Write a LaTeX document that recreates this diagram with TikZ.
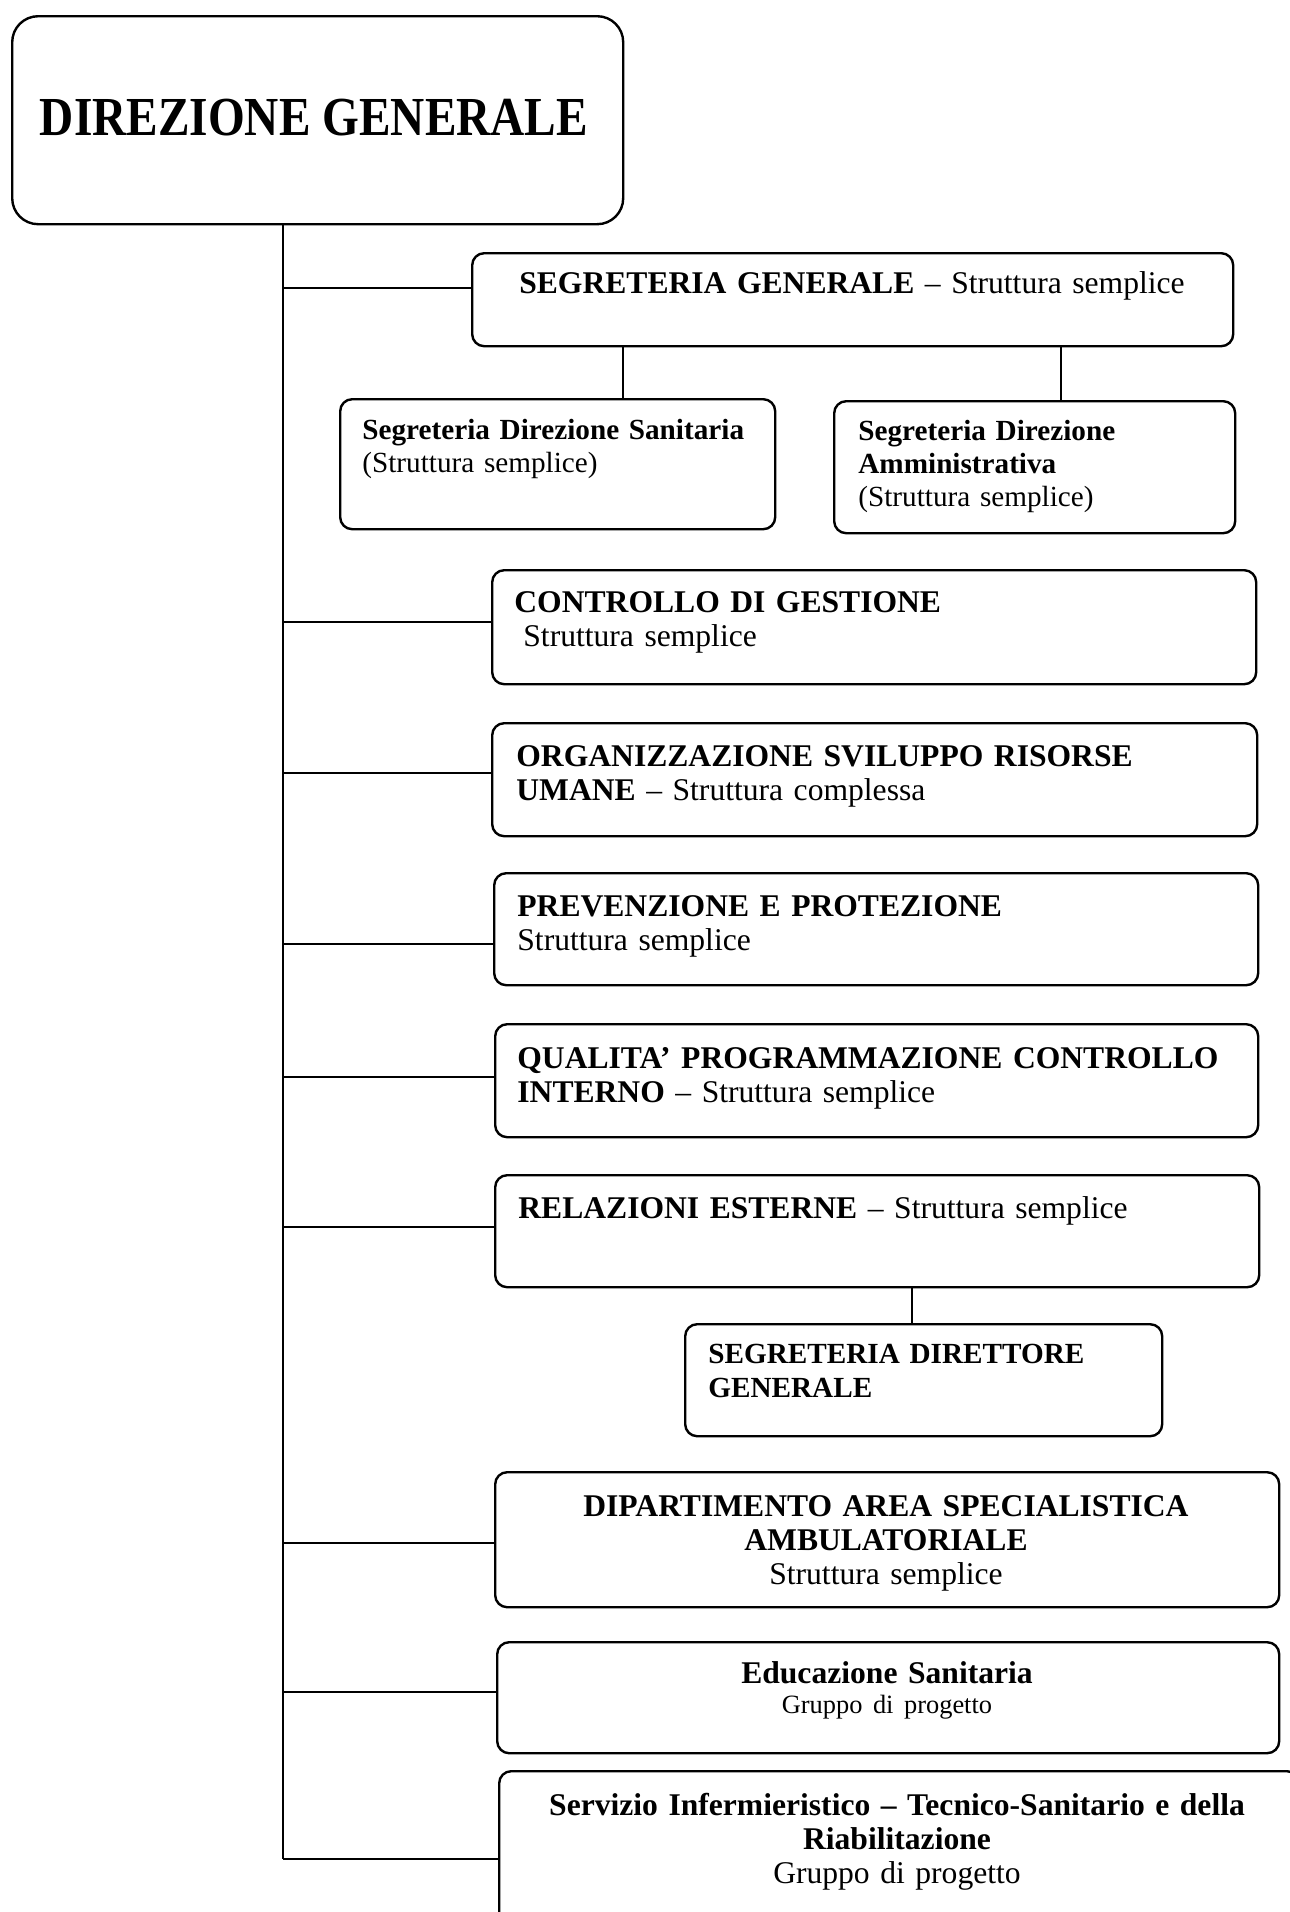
\documentclass[tikz,border=0pt]{standalone}
\usepackage{fontspec}
\setmainfont{Liberation Serif}
\newfontfamily\titlefont[FakeStretch=0.86]{Liberation Serif}

\begin{document}
\begin{tikzpicture}[%
            x=0.5pt, y=-0.5pt,
            mybox/.style 2 args={draw, line width=1.2pt, rounded corners=6pt, inner sep=0pt,
                anchor=north west, minimum width=#1, minimum height=#2},
            mytext/.style={inner sep=0pt, anchor=base west, align=left, text width=370pt,
                font=\fontsize{15.8}{17}\selectfont},
            mycentre/.style={mytext, anchor=base, align=center, text width=400pt},
            mysmall/.style={mytext, text width=215pt, font=\fontsize{14.6}{16.5}\selectfont},
            mybranch/.style={line width=1.3pt},
            mylink/.style={line width=0.8pt}
    ]
        \useasboundingbox (0,0) rectangle (1290,1912);
        \clip (0,0) rectangle (1290,1912);

        % vertici
        \path (11,15) node [mybox={305.5pt}{104pt}, rounded corners=13pt] (dg) {};
        \path (314,135) node [inner sep=0pt, anchor=base,
            font=\titlefont\fontsize{27.5}{30}\selectfont\bfseries] (dg-t) {DIREZIONE GENERALE};

        \path (471,252) node [mybox={380.5pt}{46.5pt}] (seggen) {};
        \path (852,293) node [mycentre] (seggen-t) {\textbf{SEGRETERIA GENERALE} – Struttura semplice};

        \path (339,398) node [mybox={217.5pt}{65pt}] (segsan) {};
        \path (362,439) node [mysmall] (segsan-t) {\textbf{Segreteria Direzione Sanitaria}\\(Struttura semplice)};

        \path (833,400) node [mybox={200.5pt}{66pt}] (segamm) {};
        \path (858,440) node [mysmall] (segamm-t) {\textbf{Segreteria Direzione}\\\textbf{Amministrativa}\\(Struttura semplice)};

        % strutture in staff
        \path (491,569) node [mybox={382pt}{57pt}] (ctrl) {};
        \path (514,612) node [mytext] (ctrl-t) {\textbf{CONTROLLO DI GESTIONE}\\\hspace*{4.5pt}Struttura semplice};

        \path (491,722) node [mybox={382.5pt}{56.5pt}] (org) {};
        \path (516,766) node [mytext] (org-t) {\textbf{ORGANIZZAZIONE SVILUPPO RISORSE}\\\textbf{UMANE} – Struttura complessa};

        \path (493,872) node [mybox={382pt}{56pt}] (prev) {};
        \path (517,916) node [mytext] (prev-t) {\textbf{PREVENZIONE E PROTEZIONE}\\Struttura semplice};

        \path (494,1023) node [mybox={381.5pt}{56.5pt}] (qual) {};
        \path (517,1068) node [mytext] (qual-t) {\textbf{QUALITA’ PROGRAMMAZIONE CONTROLLO}\\\textbf{INTERNO} – Struttura semplice};

        \path (494,1174) node [mybox={382pt}{56pt}] (rel) {};
        \path (518,1218) node [mytext] (rel-t) {\textbf{RELAZIONI ESTERNE} – Struttura semplice};

        \path (684,1323) node [mybox={238.5pt}{56pt}] (sdg) {};
        \path (708,1363) node [mysmall, font=\fontsize{14.6}{17}\selectfont] (sdg-t) {\textbf{SEGRETERIA DIRETTORE}\\\textbf{GENERALE}};

        \path (494,1471) node [mybox={392pt}{67.5pt}] (dip) {};
        \path (886,1516) node [mycentre] (dip-t) {\textbf{DIPARTIMENTO AREA SPECIALISTICA}\\\textbf{AMBULATORIALE}\\Struttura semplice};

        \path (496,1641) node [mybox={391pt}{55.5pt}] (edu) {};
        \path (887,1683) node [mycentre] (edu-t) {\textbf{Educazione Sanitaria}\\[-2pt]{\fontsize{13.2}{14.5}\selectfont Gruppo di progetto}};

        \path (498,1770) node [mybox={400pt}{95pt}] (serv) {};
        \path (897,1815) node [mycentre] (serv-t) {\textbf{Servizio Infermieristico – Tecnico-Sanitario e della}\\\textbf{Riabilitazione}\\Gruppo di progetto};

        % collegamenti
        \coordinate (trunk) at (283,1859);
        \draw [mybranch] (dg.south -| trunk) -- (trunk);
        \foreach \b/\y in {seggen/288, ctrl/622, org/773, prev/944, qual/1077,
                rel/1227, dip/1543, edu/1692, serv/1859}
            \draw [mybranch] (trunk |- 0,\y) -- (\b.west |- 0,\y);

        \draw [mylink] (seggen.south -| 623,0) -- (segsan.north -| 623,0);
        \draw [mylink] (seggen.south -| 1061,0) -- (segamm.north -| 1061,0);
        \draw [mylink] (rel.south -| 912,0) -- (sdg.north -| 912,0);
    \end{tikzpicture}
\end{document}
